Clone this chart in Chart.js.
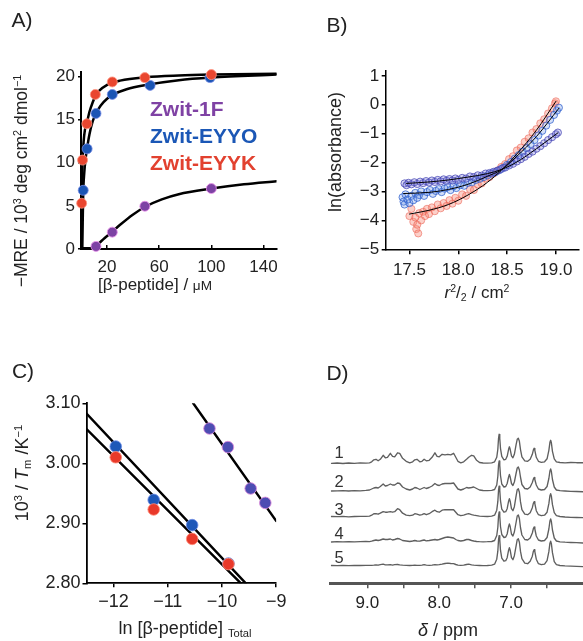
<!DOCTYPE html>
<html><head><meta charset="utf-8">
<script src="https://cdn.jsdelivr.net/npm/chart.js@4"></script>
<style>
html,body{margin:0;padding:0;background:#fff;}
body{width:583px;height:641px;position:relative;overflow:hidden;font-family:"Liberation Sans",Arial,Helvetica,sans-serif;color:#222;}
canvas{position:absolute;}
.t{position:absolute;white-space:nowrap;line-height:1;}
.c{transform:translate(-50%,-50%);}
.l{transform:translate(0,-50%);}
.r{transform:translate(-50%,-50%) rotate(-90deg);}
sup{font-size:0.62em;vertical-align:0.55em;line-height:0;}
sub{font-size:0.62em;vertical-align:-0.3em;line-height:0;}
</style></head><body>
<canvas id="ca" width="290" height="300" style="left:0;top:0"></canvas>
<canvas id="cb" width="293" height="300" style="left:290px;top:0"></canvas>
<canvas id="cc" width="290" height="341" style="left:0;top:300px"></canvas>
<canvas id="cd" width="293" height="341" style="left:290px;top:300px"></canvas>

<div class="t c" style="left:22px;top:18.5px;font-size:21px">A)</div>
<div class="t c" style="left:337px;top:24px;font-size:21px">B)</div>
<div class="t c" style="left:23px;top:370px;font-size:21px">C)</div>
<div class="t c" style="left:337.5px;top:371.5px;font-size:21px">D)</div>

<div class="t l" style="left:150px;top:107.5px;font-size:21px;font-weight:bold;color:#7f42a4">Zwit-1F</div>
<div class="t l" style="left:150px;top:135px;font-size:21px;font-weight:bold;color:#1b57b6">Zwit-EYYO</div>
<div class="t l" style="left:150px;top:162px;font-size:21px;font-weight:bold;color:#e2412f">Zwit-EYYK</div>

<div class="t r" style="left:22px;top:181px;font-size:17.5px">&minus;MRE / 10<sup>3</sup> deg cm<sup>2</sup> dmol<sup>&minus;1</sup></div>
<div class="t c" style="left:155px;top:284px;font-size:17px">[&beta;-peptide] / <span style="font-size:0.8em">&mu;M</span></div>

<div class="t r" style="left:335px;top:152px;font-size:18px">ln(absorbance)</div>
<div class="t c" style="left:477px;top:292px;font-size:17px"><i>r</i><sup>2</sup>/<sub>2</sub> / cm<sup>2</sup></div>

<div class="t r" style="left:22px;top:473px;font-size:18px">10<sup>3</sup> / <i>T</i><sub>m</sub> /K<sup>&minus;1</sup></div>
<div class="t c" style="left:185px;top:628px;font-size:18px">ln [&beta;-peptide] <sub>Total</sub></div>

<div class="t c" style="left:448px;top:630px;font-size:18px"><i>&delta;</i> / ppm</div>
<div class="t c" style="left:339px;top:451.5px;font-size:16.5px;color:#333">1</div>
<div class="t c" style="left:339px;top:481px;font-size:16.5px;color:#333">2</div>
<div class="t c" style="left:339px;top:508.5px;font-size:16.5px;color:#333">3</div>
<div class="t c" style="left:339px;top:532.5px;font-size:16.5px;color:#333">4</div>
<div class="t c" style="left:339px;top:556.5px;font-size:16.5px;color:#333">5</div>

<script>
// ---------- Panel A: CD titration ----------
const aTicksX = [20, 60, 100, 140];
const aTicksY = [0, 5, 10, 15, 20];
const aEYYK_x = [0.5, 1.2, 4.5, 11, 24, 49, 100];
const aEYYK_y = [5.3, 10.3, 14.5, 17.9, 19.35, 19.85, 20.2];
const aEYYO_x = [1.7, 4.7, 11.5, 24, 53, 99];
const aEYYO_y = [6.8, 11.6, 15.7, 17.9, 18.95, 19.85];
const a1F_x = [11.5, 24, 49, 100];
const a1F_y = [0.3, 1.95, 4.95, 7.0];
const aFitEYYK = [[0.1,0],[0.3,2.5],[0.5,5.3],[0.8,8],[1.2,10.2],[2,12.4],[3,13.8],[4.5,14.6],[6.5,15.9],[9,17.0],[11,17.7],[13,18.2],[20,19.0],[30,19.5],[50,19.9],[75,20.1],[100,20.2],[150,20.3]];
const aFitEYYO = [[1.0,0],[1.3,3],[1.7,6.5],[2.5,8.8],[3.5,10.4],[4.7,11.7],[6.5,13.3],[9,14.8],[11.5,15.7],[15,16.6],[20,17.4],[25,17.9],[35,18.5],[50,19.0],[75,19.55],[100,19.85],[150,20.2]];
const aFit1F = [[1,0.1],[8,0.1],[11,0.3],[14,0.7],[18,1.25],[24,2.0],[30,2.8],[40,4.0],[50,4.95],[62,5.75],[75,6.35],[100,7.0],[125,7.5],[150,7.85]];

// ---------- Panel B: sedimentation ----------
const bTicksX = [17.5, 18.0, 18.5, 19.0];
const bTicksY = [1, 0, -1, -2, -3, -4, -5];
const bTop = [[17.45,-2.72],[17.47,-2.78],[17.49,-2.70],[17.52,-2.75],[17.55,-2.68],[17.58,-2.74],[17.61,-2.66],[17.64,-2.71],[17.67,-2.64],[17.70,-2.69],[17.73,-2.62],[17.76,-2.67],[17.79,-2.60],[17.82,-2.65],[17.85,-2.58],[17.88,-2.63],[17.91,-2.57],[17.94,-2.62],[17.97,-2.55],[18.00,-2.60],[18.04,-2.53],[18.08,-2.55],[18.12,-2.48],[18.16,-2.50],[18.20,-2.44],[18.24,-2.45],[18.28,-2.38],[18.32,-2.36],[18.36,-2.32],[18.40,-2.28],[18.44,-2.22],[18.48,-2.17],[18.52,-2.10],[18.56,-2.04],[18.60,-1.96],[18.64,-1.88],[18.68,-1.80],[18.72,-1.70],[18.76,-1.62],[18.80,-1.52],[18.84,-1.43],[18.88,-1.33],[18.92,-1.22],[18.96,-1.12],[19.00,-1.02],[19.02,-0.96]];
const bMid = [[17.43,-3.20],[17.44,-3.35],[17.45,-3.45],[17.46,-3.10],[17.48,-3.28],[17.50,-3.40],[17.52,-3.15],[17.54,-3.30],[17.56,-3.05],[17.58,-3.22],[17.60,-3.12],[17.62,-3.00],[17.65,-3.15],[17.68,-3.02],[17.71,-2.95],[17.74,-3.08],[17.77,-2.98],[17.80,-2.92],[17.83,-3.02],[17.86,-2.90],[17.89,-2.85],[17.92,-2.95],[17.95,-2.82],[17.98,-2.88],[18.02,-2.78],[18.06,-2.80],[18.10,-2.70],[18.14,-2.68],[18.18,-2.60],[18.22,-2.56],[18.26,-2.50],[18.30,-2.44],[18.34,-2.38],[18.38,-2.33],[18.42,-2.26],[18.46,-2.18],[18.50,-2.08],[18.54,-1.98],[18.58,-1.86],[18.62,-1.74],[18.66,-1.62],[18.70,-1.50],[18.74,-1.36],[18.78,-1.22],[18.82,-1.06],[18.86,-0.90],[18.90,-0.72],[18.94,-0.52],[18.98,-0.35],[19.01,-0.20],[19.03,-0.10]];
const bRed = [[17.50,-3.85],[17.52,-3.60],[17.54,-4.05],[17.56,-3.90],[17.57,-4.30],[17.58,-4.15],[17.59,-4.45],[17.60,-3.75],[17.62,-4.00],[17.64,-3.70],[17.66,-3.85],[17.68,-3.60],[17.70,-3.78],[17.73,-3.55],[17.76,-3.68],[17.79,-3.45],[17.82,-3.58],[17.85,-3.40],[17.88,-3.50],[17.91,-3.30],[17.94,-3.42],[17.97,-3.22],[18.00,-3.32],[18.04,-3.10],[18.08,-3.15],[18.12,-2.92],[18.16,-2.95],[18.20,-2.75],[18.24,-2.72],[18.28,-2.55],[18.32,-2.50],[18.36,-2.38],[18.40,-2.28],[18.44,-2.15],[18.48,-2.05],[18.52,-1.88],[18.56,-1.78],[18.60,-1.58],[18.64,-1.48],[18.68,-1.28],[18.72,-1.16],[18.76,-0.96],[18.80,-0.84],[18.84,-0.64],[18.88,-0.50],[18.92,-0.30],[18.96,-0.12],[18.99,0.05],[19.00,0.12]];
const bFitTop = [[17.47,-2.72],[17.7,-2.67],[17.9,-2.6],[18.1,-2.5],[18.3,-2.38],[18.44,-2.24],[18.6,-1.98],[18.8,-1.52],[19.02,-0.97]];
const bFitMid = [[17.44,-3.07],[17.7,-3.03],[17.9,-2.93],[18.1,-2.75],[18.3,-2.47],[18.44,-2.25],[18.6,-1.78],[18.8,-1.1],[19.03,-0.12]];
const bFitRed = [[17.5,-3.78],[17.7,-3.65],[17.9,-3.45],[18.1,-3.12],[18.3,-2.68],[18.44,-2.27],[18.6,-1.7],[18.8,-0.88],[19.0,0.12]];

// ---------- Panel C: 1/Tm vs ln concentration ----------
const cTicksX = [-12, -11, -10, -9];
const cTicksY = [2.8, 2.9, 3.0, 3.1];
const cX = [-11.96, -11.26, -10.55, -9.88];
const cEYYO = [3.028, 2.939, 2.897, 2.833];
const cEYYK = [3.010, 2.923, 2.874, 2.832];
const c1F_x = [-10.23, -9.89, -9.47, -9.2];
const c1F_y = [3.058, 3.027, 2.958, 2.934];
const cFitEYYO = [[-12.5,3.083],[-9.56,2.80]];
const cFitEYYK = [[-12.5,3.057],[-9.65,2.80]];
const cFit1F = [[-10.53,3.10],[-9.0,2.904]];

// ---------- Panel D: 1H NMR spectra ----------
const dTicksX = [9.0, 8.5, 8.0, 7.5, 7.0, 6.5];
const ppm = [
 9.50,9.42,9.34,9.26,9.18,9.10,9.02,8.97,
 8.94,8.91,8.88,8.85,8.82,8.78,8.75,8.72,8.68,8.65,
 8.62,8.58,8.55,8.51,8.46,8.41,8.37,8.34,8.31,8.27,
 8.24,8.21,8.18,8.14,8.10,8.06,8.03,8.00,7.96,7.92,
 7.88,7.84,7.80,7.77,7.74,7.70,7.66,7.62,7.59,7.55,
 7.52,7.48,7.44,7.39,7.33,7.27,
 7.23,7.20,7.185,7.175,7.167,7.158,7.148,7.13,7.10,7.075,
 7.055,7.035,7.024,7.013,6.995,6.975,6.955,6.93,6.915,6.90,
 6.885,6.87,6.85,6.81,6.77,6.735,6.705,6.69,6.68,6.67,
 6.65,6.62,6.58,6.535,6.50,6.475,6.46,6.45,6.44,6.425,
 6.40,6.37,6.32,6.25,6.17,6.09,6.00];
const spec1 = [
 0,0.3,-0.2,0.3,0,0.4,0.2,0.5,
 1.5,3.5,4,2.5,4,8,5.5,6,10,7,
 6.5,10.5,10,5,2,0.5,1.5,3.5,4,1.5,
 2,4,2.5,3,6,10.5,7,6.5,9,8.5,
 9,8.5,10,6,2,0.5,1.5,4,6,8,
 7.5,3,0.8,0.3,0.2,0.5,
 1.5,6,14,25,29,25,15,7,3.5,4,
 7,14,16.5,14,7.5,5.5,9,19,24,25,
 22,14,6.5,2.5,2,4,9,13.5,15,13,
 6,2,1,1.5,4.5,13,21,23,20.5,12,
 4.5,1.5,0.8,0.5,0.8,0.6,0.6];
const spec2 = [
 0,0.2,0.4,0,0.3,0.2,0.6,1,
 2,3,3.5,3,4.5,7,5,5.5,7,6,
 6,8,7.5,4,2,1,2,3.5,3,1.5,
 2.5,3.5,2.5,3.5,5,7.5,6,5.5,7,7.5,
 7.5,7.5,8,5,2,1,2,3.5,3,3.5,
 4,2.5,1,0.5,0.3,0.6,
 1.5,6,14.5,26,30,26,15.5,7,4,4.5,
 7.5,14,16.5,14,7.5,5.5,9,18,23,24,
 21,14,6.5,2.5,2,4,8.5,12,13.5,11.5,
 6,2,1,1.5,4.5,12.5,20,22,19.5,11.5,
 4,1,0.3,0,-0.3,-0.5,-0.8];
const spec3 = [
 0.2,0,0.3,-0.1,0.2,0.4,0.3,0.5,
 1.5,3,3,2.5,3.5,5,4.5,4.5,5,4.5,
 5,8,7,3.5,1.5,1,1.5,3,2.5,1.5,
 2,3,2,3,5,6.5,5,4.5,6.5,7,
 7,7,7,4.5,2,1,1.5,2.5,3,2,
 1.5,1,0.5,0.3,0.2,0.5,
 1.5,6.5,15,26.5,30.5,26.5,16,7.5,4.5,5,
 8,15.5,18,15.5,8,6,10,21,27,28,
 24.5,15,7,2.5,2,4,9,13.5,15,13,
 6,2,1,1.5,4.5,13,21,23,20.5,12,
 4,1,0.2,-0.3,-0.6,-0.8,-1];
const spec4 = [
 0,0.3,0.1,0.4,0.2,0.3,0.5,0.4,
 0.8,1.5,2,1.5,2,3,2.5,2.5,3,2,
 2.5,3.5,3,1.5,1,0.5,1,1.5,1,0.8,
 1.5,2,1.2,1.5,2,2.5,2,2.5,3.5,4.5,
 5,4.5,4,2.5,1.5,1,1.5,2.5,2.5,1.5,
 1,0.5,0.3,0.2,0.3,0.5,
 1.5,6.5,14.5,26,30,26,15.5,7.5,4.5,5,
 8,15.5,18,15.5,8,6,10,20,26,27,
 23.5,14.5,7,2.5,2,4,9,13.5,15,13,
 6,2,1,1.5,4.5,13,21,23,20.5,12,
 4,1,0.2,-0.2,-0.5,-0.7,-1];
const spec5 = [
 0.2,0,0.3,0.1,0.3,0.2,0.4,0.3,
 0.3,0.5,0.8,0.5,1,1.5,0.8,0.8,1,0.6,
 1,1.2,0.8,0.5,0.3,0.2,0.4,0.6,0.4,0.3,
 0.5,1,0.5,0.4,0.6,1,0.8,1,1.5,2.2,
 2.5,2.2,2,1.2,0.6,0.4,0.6,1.2,1.5,0.8,
 0.5,0.3,0.2,0.1,0.2,0.5,
 1.5,6.5,14.5,26,30,26,15.5,7.5,4.5,5,
 8,15.5,18,15.5,8,6,10,20,26,27,
 23.5,14.5,7,2.5,2,4.5,9.5,14.5,16,14,
 6.5,2,1,1.5,5,14,22.5,24.5,22,13,
 4,1,0.2,-0.2,-0.5,-0.7,-1];
const spectra = [spec1, spec2, spec3, spec4, spec5];

// ---------- presentation ----------
const traceOffset = [120, 92.3, 66.6, 41.3, 17.6]; // vertical stacking (px units of the hidden axis)

Chart.defaults.font.family = '"Liberation Sans", Arial, Helvetica, sans-serif';
Chart.defaults.color = '#222';

const minus = v => String(v).replace('-', '\u2212');
const toPts = (xs, ys) => xs.map((x, i) => ({x, y: ys[i]}));
const toXY = arr => arr.map(([x, y]) => ({x, y}));

function dots(data, fill, edge, r, bw) {
  return {data, showLine:false, pointRadius:r, pointHoverRadius:r, pointBackgroundColor:fill,
          pointBorderColor:edge, pointBorderWidth:bw == null ? 1 : bw, clip:false};
}
function curve(data, color, w, tension) {
  return {data, showLine:true, pointRadius:0, pointHoverRadius:0, borderColor:color, borderWidth:w,
          tension:tension, cubicInterpolationMode: tension > 0 ? 'monotone' : 'default',
          fill:false, borderJoinStyle:'round', borderCapStyle:'round'};
}
function axis(o) {
  return {
    type:'linear', min:o.min, max:o.max, reverse:!!o.reverse, display:o.display !== false,
    afterBuildTicks: s => { s.ticks = o.ticks.map(v => ({value:v})); },
    afterFit: s => { if (o.w != null) s.width = o.w; if (o.h != null) s.height = o.h; },
    grid:{display:true, drawOnChartArea:false, drawTicks:true, tickLength:o.tl, color:o.tc || '#000', lineWidth:o.tw || 1.5},
    border:{display:true, color:o.bc || '#000', width:o.bw || 2},
    ticks:{padding:o.pad, color:'#222', font:{size:o.fs}, callback:o.fmt, autoSkip:false, maxRotation:0, minRotation:0}
  };
}
function base(padding, scales) {
  return {responsive:false, animation:false, events:[], layout:{padding},
          plugins:{legend:{display:false}, tooltip:{enabled:false}}, scales};
}

// Panel A
new Chart(document.getElementById('ca'), {
  type:'scatter',
  data:{datasets:[
    dots(toPts(aEYYK_x, aEYYK_y), '#e9462f', 'rgba(255,150,130,0.8)', 5),
    dots(toPts(aEYYO_x, aEYYO_y), '#1b55b4', 'rgba(120,140,230,0.8)', 5),
    dots(toPts(a1F_x, a1F_y), '#7d42a4', 'rgba(235,150,235,0.85)', 5),
    curve(toXY(aFitEYYK), '#000', 2.5, 0.4),
    curve(toXY(aFitEYYO), '#000', 2.5, 0.4),
    curve(toXY(aFit1F), '#000', 2.5, 0.4)
  ]},
  options: base({left:41, right:8, top:72, bottom:21}, {
    x: axis({min:0, max:150, ticks:aTicksX, h:30, tl:-4, pad:11.8, fs:17, bw:2, fmt:v => String(v)}),
    y: axis({min:0, max:20.5, ticks:aTicksY, w:40, tl:3, pad:3, fs:17, bw:2, fmt:v => String(v)})
  })
});

// Panel B
new Chart(document.getElementById('cb'), {
  type:'scatter',
  data:{datasets:[
    curve(toXY(bFitTop), '#000', 1, 0.4),
    curve(toXY(bFitMid), '#000', 1, 0.4),
    curve(toXY(bFitRed), '#000', 1, 0.4),
    dots(toXY(bTop), 'rgba(120,120,215,0.30)', 'rgba(70,70,180,0.75)', 3.6),
    dots(toXY(bMid), 'rgba(110,150,230,0.30)', 'rgba(45,95,205,0.75)', 3.6),
    dots(toXY(bRed), 'rgba(245,120,100,0.35)', 'rgba(235,95,80,0.55)', 3.6)
  ]},
  options: base({left:55.7, right:0, top:71, bottom:20.7}, {
    x: axis({min:17.257, max:19.23, ticks:bTicksX, h:30, tl:5, pad:5.5, fs:17, bw:1.5, fmt:v => v.toFixed(1)}),
    y: axis({min:-5, max:1.17, ticks:bTicksY, w:40, tl:4, pad:2.5, fs:17, bw:1.5, fmt:v => minus(v)})
  })
});

// Panel C
new Chart(document.getElementById('cc'), {
  type:'scatter',
  data:{datasets:[
    dots(toPts(cX, cEYYK), '#e9392a', 'rgba(255,140,120,0.8)', 5.8),
    dots(toPts(cX, cEYYO), '#1e58b8', 'rgba(110,140,230,0.8)', 5.8),
    dots(toPts(c1F_x, c1F_y), '#4d4db2', 'rgba(220,140,220,0.85)', 5.8),
    curve(toXY(cFitEYYO), '#000', 2.5, 0),
    curve(toXY(cFitEYYK), '#000', 2.5, 0),
    curve(toXY(cFit1F), '#000', 2.5, 0)
  ]},
  options: base({left:36.5, right:3.3, top:103.3, bottom:27.7}, {
    x: axis({min:-12.5, max:-9, ticks:cTicksX, h:30, tl:4, pad:3.6, fs:18, bw:1.8, fmt:v => minus(v)}),
    y: axis({min:2.8, max:3.1, ticks:cTicksY, w:50, tl:4, pad:2, fs:18, bw:1.8, fmt:v => v.toFixed(2)})
  })
});

// Panel D
new Chart(document.getElementById('cd'), {
  type:'scatter',
  data:{datasets: spectra.map((s, k) =>
    curve(ppm.map((p, i) => ({x:p, y:traceOffset[k] + s[i]})), '#5f5f5f', 1.35, 0))},
  options: base({left:40.7, right:0, top:100, bottom:27.7}, {
    x: axis({min:6.0, max:9.51, reverse:true, ticks:dTicksX, h:30, tl:5, pad:4.8, fs:17, bw:3, bc:'#555', tc:'#555',
             fmt:v => (Math.abs(v - Math.round(v)) < 1e-6 ? v.toFixed(1) : '')}),
    y: {type:'linear', min:0, max:183.3, display:false}
  })
});
</script>
</body></html>
